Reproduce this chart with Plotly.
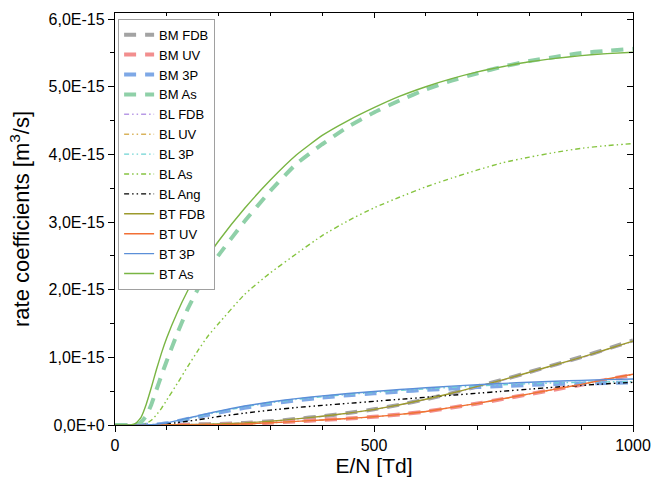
import numpy as np
import plotly.graph_objects as go

# E/N grid [Td]
E = [0, 30, 40, 50, 60, 70, 80, 90, 100, 120, 140, 160, 180, 200, 250, 300, 350, 400,
     450, 500, 550, 600, 650, 700, 750, 800, 850, 900, 950, 1000]

# rate coefficients in units of 1e-15 m^3/s
BM_FDB = [0, 0, 0, 0, 0, 0, 0, 0.001, 0.002, 0.004, 0.006, 0.009, 0.012, 0.016, 0.03, 0.055,
          0.09, 0.13, 0.177, 0.232, 0.3, 0.38, 0.47, 0.57, 0.672, 0.782, 0.893, 1.005, 1.125, 1.25]
BM_UV = [0, 0, 0, 0, 0, 0, 0, 0, 0, 0, 0, 0.001, 0.003, 0.005, 0.015, 0.033, 0.053, 0.074,
         0.096, 0.121, 0.156, 0.198, 0.257, 0.317, 0.386, 0.456, 0.526, 0.596, 0.672, 0.74]
BM_3P = [0, 0, 0, 0, 0.002, 0.004, 0.008, 0.015, 0.025, 0.055, 0.088, 0.12, 0.152, 0.183,
         0.255, 0.315, 0.365, 0.405, 0.44, 0.468, 0.495, 0.52, 0.54, 0.56, 0.577, 0.592,
         0.605, 0.615, 0.622, 0.628]
BM_As = [0, 0, 0.005, 0.04, 0.13, 0.3, 0.52, 0.74, 0.95, 1.35, 1.71, 2.01, 2.28, 2.51, 3.01,
         3.46, 3.86, 4.15, 4.41, 4.62, 4.8, 4.96, 5.09, 5.2, 5.3, 5.38, 5.44, 5.5, 5.53, 5.56]
BL_FDB = [0, 0, 0, 0, 0, 0, 0, 0.001, 0.002, 0.004, 0.006, 0.009, 0.012, 0.016, 0.03, 0.054,
          0.089, 0.128, 0.174, 0.228, 0.297, 0.376, 0.466, 0.565, 0.665, 0.775, 0.885, 0.995,
          1.115, 1.235]
BL_UV = [0, 0, 0, 0, 0, 0, 0, 0, 0, 0, 0, 0.001, 0.003, 0.005, 0.015, 0.032, 0.052, 0.074,
         0.096, 0.121, 0.156, 0.199, 0.259, 0.319, 0.388, 0.458, 0.528, 0.598, 0.676, 0.745]
BL_3P = [0, 0, 0, 0, 0.002, 0.004, 0.009, 0.017, 0.027, 0.06, 0.094, 0.128, 0.161, 0.194,
         0.268, 0.328, 0.378, 0.418, 0.453, 0.482, 0.51, 0.535, 0.557, 0.577, 0.595, 0.61,
         0.622, 0.632, 0.638, 0.642]
BL_As = [0, 0, 0, 0.003, 0.02, 0.07, 0.15, 0.25, 0.37, 0.61, 0.86, 1.1, 1.32, 1.5, 1.93, 2.25,
         2.53, 2.8, 3.02, 3.21, 3.37, 3.52, 3.65, 3.77, 3.88, 3.96, 4.03, 4.09, 4.13, 4.16]
BL_Ang = [0, 0, 0, 0, 0, 0.002, 0.005, 0.01, 0.017, 0.035, 0.055, 0.078, 0.1, 0.125, 0.175,
          0.22, 0.258, 0.29, 0.32, 0.35, 0.38, 0.41, 0.44, 0.47, 0.5, 0.53, 0.56, 0.585,
          0.61, 0.63]
BT_FDB = [0, 0, 0, 0, 0, 0, 0, 0.001, 0.002, 0.004, 0.006, 0.009, 0.012, 0.016, 0.03, 0.055,
          0.09, 0.13, 0.175, 0.23, 0.3, 0.38, 0.47, 0.57, 0.67, 0.78, 0.89, 1.0, 1.12, 1.24]
BT_UV = [0, 0, 0, 0, 0, 0, 0, 0, 0, 0, 0, 0.001, 0.003, 0.005, 0.015, 0.033, 0.053, 0.075,
         0.097, 0.122, 0.157, 0.2, 0.26, 0.32, 0.39, 0.46, 0.53, 0.6, 0.68, 0.75]
BT_3P = [0, 0, 0, 0, 0.002, 0.005, 0.01, 0.02, 0.03, 0.065, 0.1, 0.135, 0.17, 0.205, 0.28,
         0.34, 0.39, 0.43, 0.465, 0.495, 0.525, 0.55, 0.575, 0.595, 0.615, 0.632, 0.647,
         0.66, 0.67, 0.68]
BT_As = [0, 0.002, 0.025, 0.11, 0.3, 0.55, 0.82, 1.07, 1.29, 1.66, 1.98, 2.26, 2.5, 2.72, 3.2,
         3.62, 3.99, 4.28, 4.5, 4.69, 4.86, 5.0, 5.12, 5.22, 5.3, 5.37, 5.42, 5.46, 5.49, 5.51]

Y_TICKS = [0, 1e-15, 2e-15, 3e-15, 4e-15, 5e-15, 6e-15]
Y_LABELS = ["0,0E+0", "1,0E-15", "2,0E-15", "3,0E-15", "4,0E-15", "5,0E-15", "6,0E-15"]
X_TICKS = [0, 500, 1000]
X_LABELS = ["0", "500", "1000"]

SCALE = 1e-15
BM_DASH = "12px,9px"
BL_DASH = "5px,3px,1.5px,3px,1.5px,3px"

series = [
    ("BM FDB", BM_FDB, "#a3a3a3", 4, BM_DASH),
    ("BM UV", BM_UV, "#f28e8e", 4, BM_DASH),
    ("BM 3P", BM_3P, "#7ea8e6", 4, BM_DASH),
    ("BM As", BM_As, "#8fd0a8", 4, BM_DASH),
    ("BL FDB", BL_FDB, "#b89ae6", 1.4, BL_DASH),
    ("BL UV", BL_UV, "#d9b35c", 1.4, BL_DASH),
    ("BL 3P", BL_3P, "#6fd4d4", 1.4, BL_DASH),
    ("BL As", BL_As, "#86c440", 1.4, BL_DASH),
    ("BL Ang", BL_Ang, "#000000", 1.4, BL_DASH),
    ("BT FDB", BT_FDB, "#9c9a2c", 1.4, "solid"),
    ("BT UV", BT_UV, "#f26f35", 1.4, "solid"),
    ("BT 3P", BT_3P, "#5b8fd8", 1.4, "solid"),
    ("BT As", BT_As, "#79b543", 1.4, "solid"),
]

fig = go.Figure()
for name, vals, color, width, dash in series:
    fig.add_trace(go.Scatter(
        x=E, y=np.array(vals) * SCALE, mode="lines", name=name,
        line=dict(color=color, width=width, dash=dash, shape="spline", smoothing=0.4),
        hoverinfo="skip",
    ))

# helper trace for mirrored (inside-tick) top/right axes
fig.add_trace(go.Scatter(x=[None], y=[None], xaxis="x2", yaxis="y2",
                         showlegend=False, hoverinfo="skip"))

XR = [0, 1000]
YR = [0, 6.09e-15]
FONT = "Arial, Liberation Sans, sans-serif"

fig.update_layout(
    width=667, height=483,
    margin=dict(l=115, r=34, t=11, b=54),
    paper_bgcolor="white", plot_bgcolor="white",
    font=dict(family=FONT, color="black"),
    showlegend=True,
    legend=dict(x=0.006, y=0.986, xanchor="left", yanchor="top",
                bgcolor="white", bordercolor="#a0a0a0", borderwidth=1,
                font=dict(size=13, family=FONT, color="black"), tracegroupgap=0, itemwidth=30),
    xaxis=dict(range=XR, tickvals=X_TICKS, ticktext=X_LABELS,
               ticks="outside", ticklen=6, tickwidth=1.3, tickcolor="black",
               minor=dict(dtick=100, ticks="outside", ticklen=4, tickwidth=1.3, tickcolor="black"),
               showline=True, linecolor="black", linewidth=1.3, showgrid=False, zeroline=False,
               tickfont=dict(size=16), title=dict(text="E/N [Td]", font=dict(size=21), standoff=3)),
    yaxis=dict(range=YR, tickvals=Y_TICKS, ticktext=Y_LABELS,
               ticks="outside", ticklen=6, tickwidth=1.3, tickcolor="black",
               minor=dict(dtick=0.5e-15, ticks="outside", ticklen=4, tickwidth=1.3, tickcolor="black"),
               showline=True, linecolor="black", linewidth=1.3, showgrid=False, zeroline=False,
               tickfont=dict(size=16),
               title=dict(text="rate coefficients [m<sup>3</sup>/s]", font=dict(size=22), standoff=12)),
    xaxis2=dict(range=XR, overlaying="x", side="top", anchor="y2",
                tickvals=X_TICKS, showticklabels=False,
                ticks="inside", ticklen=5, tickwidth=1.3, tickcolor="black",
                minor=dict(dtick=100, ticks="inside", ticklen=3, tickwidth=1.3, tickcolor="black"),
                showline=True, linecolor="black", linewidth=1.3, showgrid=False, zeroline=False),
    yaxis2=dict(range=YR, overlaying="y", side="right", anchor="x2",
                tickvals=Y_TICKS, showticklabels=False,
                ticks="inside", ticklen=6, tickwidth=1.3, tickcolor="black",
                minor=dict(dtick=0.5e-15, ticks="inside", ticklen=4, tickwidth=1.3, tickcolor="black"),
                showline=True, linecolor="black", linewidth=1.3, showgrid=False, zeroline=False),
)

fig.write_html("out.html")
